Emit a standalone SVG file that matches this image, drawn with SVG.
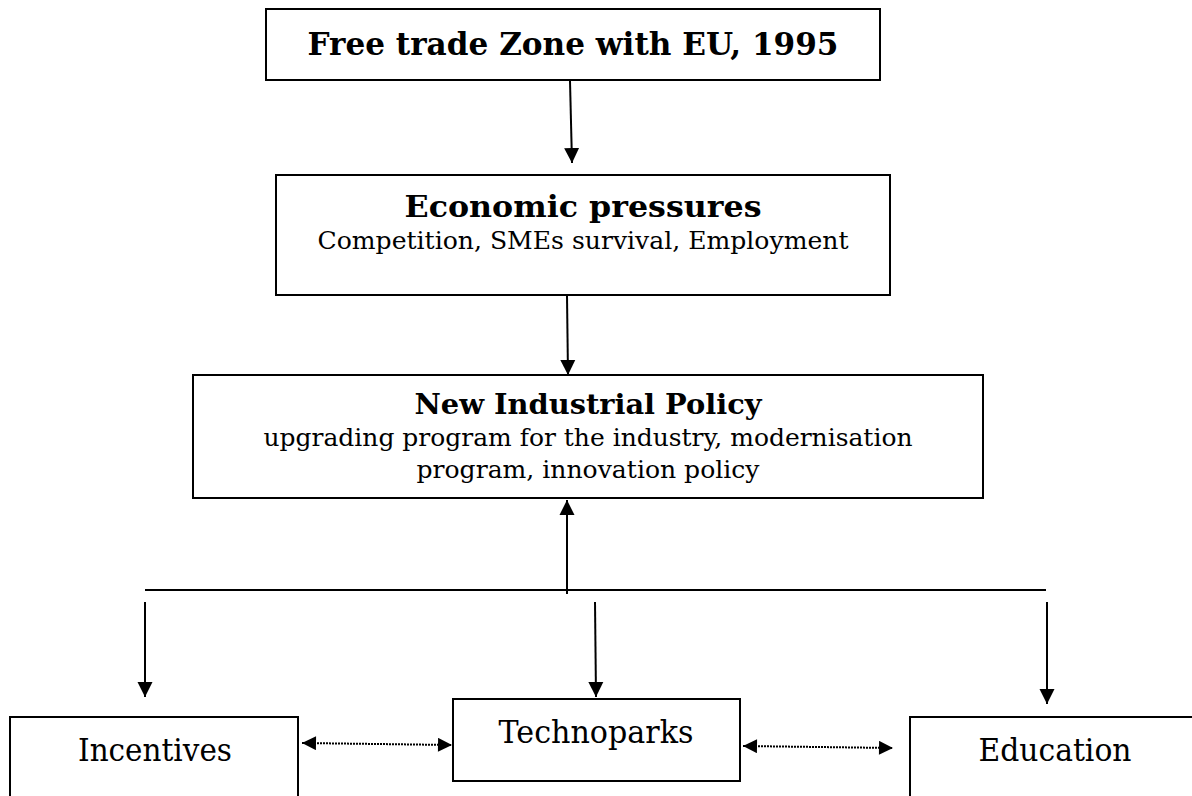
<svg xmlns="http://www.w3.org/2000/svg" width="1192" height="796" viewBox="0 0 1192 796">
<style>
.box{fill:#fff;stroke:#000;stroke-width:2}
.t{font-family:"DejaVu Serif","Liberation Serif",serif;fill:#000;text-anchor:middle}
.b{font-weight:bold}
.ln{stroke:#000;stroke-width:2;fill:none}
.dot{stroke:#000;stroke-width:2;stroke-dasharray:2 1;fill:none}
</style>
<defs>
<marker id="ah" viewBox="0 0 10 10" refX="10" refY="5" markerWidth="15" markerHeight="16" markerUnits="userSpaceOnUse" orient="auto-start-reverse"><path d="M0,0 L10,5 L0,10 z" fill="#000"/></marker>
<marker id="as" viewBox="0 0 10 10" refX="10" refY="5" markerWidth="16" markerHeight="14" markerUnits="userSpaceOnUse" orient="auto-start-reverse"><path d="M0,0 L10,5 L0,10 z" fill="#000"/></marker>
</defs>
<rect width="1192" height="796" fill="#fff"/>
<g id="n-free">
<rect class="box" x="266" y="9" width="614" height="71"/>
<text class="t b" x="573" y="55" font-size="31" textLength="531" lengthAdjust="spacingAndGlyphs">Free trade Zone with EU, 1995</text>
</g>
<g id="n-econ">
<rect class="box" x="276" y="175" width="614" height="120"/>
<text class="t b" x="583" y="217" font-size="30" textLength="357" lengthAdjust="spacingAndGlyphs">Economic pressures</text>
<text class="t" x="583" y="249" font-size="24" textLength="531" lengthAdjust="spacingAndGlyphs">Competition, SMEs survival, Employment</text>
</g>
<g id="n-nip">
<rect class="box" x="193" y="375" width="790" height="123"/>
<text class="t b" x="588" y="414" font-size="28" textLength="347" lengthAdjust="spacingAndGlyphs">New Industrial Policy</text>
<text class="t" x="588" y="446" font-size="25" textLength="649" lengthAdjust="spacingAndGlyphs">upgrading program for the industry, modernisation</text>
<text class="t" x="588" y="478" font-size="25" textLength="343" lengthAdjust="spacingAndGlyphs">program, innovation policy</text>
</g>
<g id="n-inc">
<rect class="box" x="10" y="717" width="288" height="90"/>
<text class="t" x="155" y="761" font-size="31" textLength="154" lengthAdjust="spacingAndGlyphs">Incentives</text>
</g>
<g id="n-tech">
<rect class="box" x="453" y="699" width="287" height="82"/>
<text class="t" x="596" y="743" font-size="31" textLength="195" lengthAdjust="spacingAndGlyphs">Technoparks</text>
</g>
<g id="n-edu">
<rect class="box" x="910" y="717" width="290" height="90"/>
<text class="t" x="1055" y="761" font-size="31" textLength="153" lengthAdjust="spacingAndGlyphs">Education</text>
</g>
<g id="connectors">
<line class="ln" x1="570" y1="81" x2="572" y2="163" marker-end="url(#ah)"/>
<line class="ln" x1="567" y1="296" x2="568" y2="375" marker-end="url(#ah)"/>
<line class="ln" x1="145" y1="590" x2="1046" y2="590"/>
<line class="ln" x1="567" y1="594" x2="567" y2="500" marker-end="url(#ah)"/>
<line class="ln" x1="145" y1="602" x2="145" y2="697" marker-end="url(#ah)"/>
<line class="ln" x1="595" y1="602" x2="596" y2="697" marker-end="url(#ah)"/>
<line class="ln" x1="1047" y1="602" x2="1047" y2="704" marker-end="url(#ah)"/>
<line class="dot" x1="302" y1="743" x2="452" y2="745" marker-start="url(#as)" marker-end="url(#as)"/>
<line class="dot" x1="743" y1="746" x2="893" y2="748" marker-start="url(#as)" marker-end="url(#as)"/>
</g>
</svg>
